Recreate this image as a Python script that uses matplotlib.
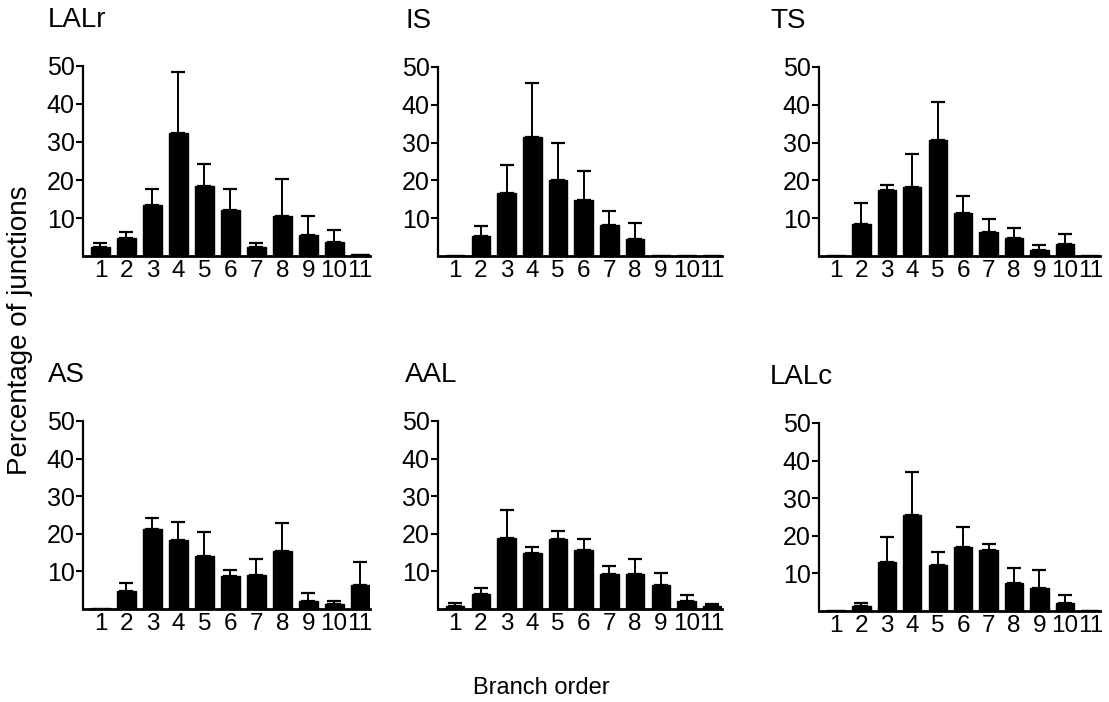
import matplotlib
matplotlib.use("Agg")
import matplotlib.pyplot as plt
import numpy as np

plt.rcParams['font.family'] = ['Liberation Sans', 'DejaVu Sans']

orders = [1, 2, 3, 4, 5, 6, 7, 8, 9, 10, 11]
order_labels = [str(o) for o in orders]

# mean and upper error end (mean + sem) per branch order
lalr_mean = [2.4, 4.7, 13.5, 32.3, 18.3, 12.0, 2.3, 10.5, 5.5, 3.7, 0.4]
lalr_top = [3.4, 6.3, 17.7, 48.4, 24.3, 17.6, 3.5, 20.3, 10.4, 6.8, 0.4]

is_mean = [0.2, 5.3, 16.6, 31.4, 20.0, 14.7, 8.2, 4.5, 0.2, 0.2, 0.2]
is_top = [0.2, 8.0, 24.2, 45.8, 29.9, 22.6, 11.9, 8.6, 0.2, 0.2, 0.2]

ts_mean = [0.2, 8.4, 17.4, 18.2, 30.8, 11.4, 6.3, 4.8, 1.6, 3.3, 0.2]
ts_top = [0.2, 14.1, 18.9, 27.0, 40.8, 15.8, 9.7, 7.5, 2.9, 5.9, 0.2]

as_mean = [0.2, 4.7, 21.4, 18.3, 14.0, 8.8, 9.1, 15.3, 2.2, 1.2, 6.5]
as_top = [0.2, 6.9, 24.3, 23.2, 20.6, 10.4, 13.4, 23.0, 4.2, 2.0, 12.4]

aal_mean = [0.9, 3.9, 19.0, 15.0, 18.5, 15.7, 9.4, 9.4, 6.4, 2.1, 0.8]
aal_top = [1.5, 5.7, 26.2, 16.4, 20.8, 18.6, 11.5, 13.4, 9.5, 3.7, 1.4]

lalc_mean = [0.2, 1.2, 12.9, 25.6, 12.3, 17.1, 16.3, 7.5, 6.2, 2.2, 0.2]
lalc_top = [0.2, 2.0, 19.7, 37.1, 15.8, 22.3, 17.8, 11.4, 10.8, 4.3, 0.2]

panels = [
    ("LALr", lalr_mean, lalr_top),
    ("IS", is_mean, is_top),
    ("TS", ts_mean, ts_top),
    ("AS", as_mean, as_top),
    ("AAL", aal_mean, aal_top),
    ("LALc", lalc_mean, lalc_top),
]

W, H = 1109, 702
fig = plt.figure(figsize=(W / 100, H / 100), dpi=100)

# axes boxes in pixels: left, top, right, bottom, title x
boxes = [
    (83, 66, 370, 256, 48),
    (438, 67, 722, 256, 405),
    (819, 67, 1100, 256, 770),
    (83, 421, 370, 609, 48),
    (438, 421, 722, 609, 405),
    (819, 423, 1100, 611, 770),
]

for (name, mean, top), (l, t, r, b, tx) in zip(panels, boxes):
    ax = fig.add_axes([l / W, 1 - b / H, (r - l) / W, (b - t) / H])
    mean = np.array(mean)
    err = np.array(top) - mean
    ax.bar(orders, mean, width=0.72, color='black', edgecolor='black')
    has_err = err > 0.05
    ax.errorbar(np.array(orders)[has_err], mean[has_err],
                yerr=[np.zeros(has_err.sum()), err[has_err]],
                fmt='none', ecolor='black', elinewidth=1.4, capsize=5, capthick=1.6)
    ax.set_xlim(0.33, 11.38)
    ax.set_ylim(0, 50)
    ax.set_yticks([10, 20, 30, 40, 50])
    ax.set_xticks(orders)
    ax.set_xticklabels(order_labels)
    ax.tick_params(axis='x', length=0, pad=3, labelsize=17.5)
    ax.tick_params(axis='y', length=5, width=1.5, pad=1, labelsize=18)
    for s in ['top', 'right']:
        ax.spines[s].set_visible(False)
    ax.spines['left'].set_linewidth(1.6)
    ax.spines['bottom'].set_linewidth(2.0)
    fig.text(tx / W, 1 - (t - 46) / H, name, fontsize=20, ha='left', va='center')

fig.text(20 / W, 1 - 330 / H, "Percentage of junctions", rotation=90,
         fontsize=20, ha='center', va='center')
fig.text(541 / W, 1 - 688 / H, "Branch order", fontsize=17, ha='center', va='center')

fig.savefig("out.png", dpi=100)
